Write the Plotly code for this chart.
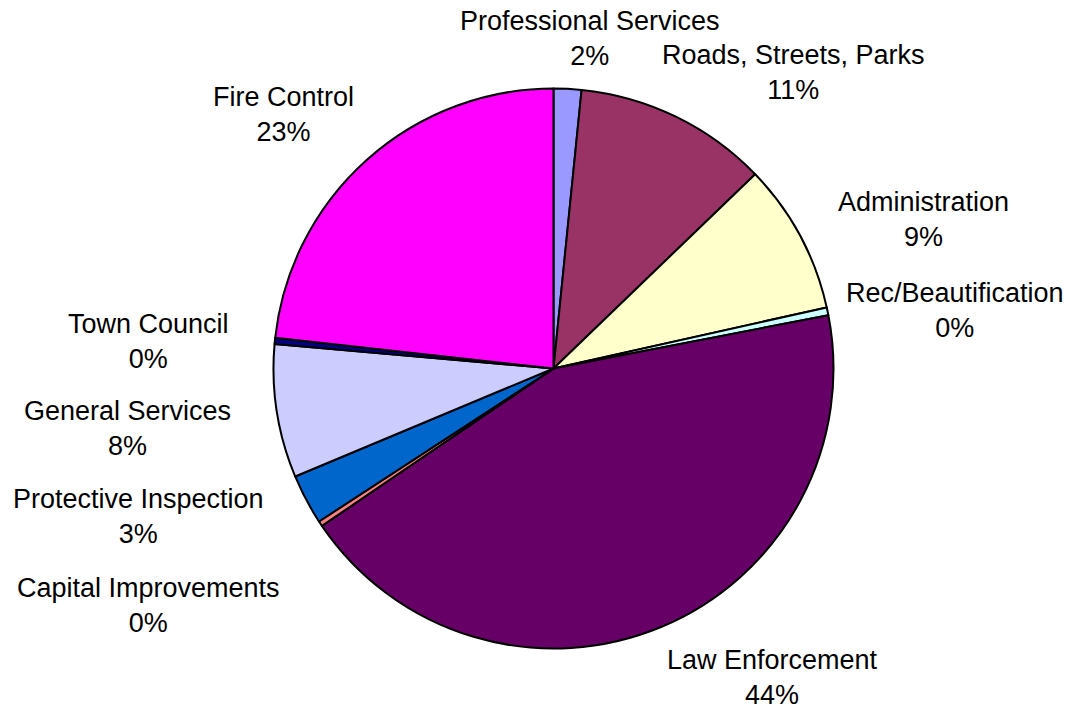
import plotly.graph_objects as go

categories = ["Professional Services", "Roads, Streets, Parks", "Administration",
              "Rec/Beautification", "Law Enforcement", "Capital Improvements",
              "Protective Inspection", "General Services", "Town Council", "Fire Control"]
values = [1.6, 11.2, 8.7, 0.45, 43.55, 0.3, 2.9, 7.7, 0.35, 23.25]
colors = ["#9999FF", "#993366", "#FFFFCC", "#CCFFFF", "#660066", "#FF8080",
          "#0066CC", "#CCCCFF", "#000080", "#FF00FF"]

# label block centres in pixels (layout only)
label_pos = [(590, 38), (793, 73), (923, 219), (955, 310), (772, 677),
             (148, 605), (138, 516), (127, 428), (148, 341), (283, 114)]

W, H = 1072, 715
cx, cy, r = 553.5, 368.5, 280

fig = go.Figure(go.Pie(
    labels=categories, values=values, sort=False, direction="clockwise",
    rotation=0, textinfo="none", hoverinfo="label+percent",
    marker=dict(colors=colors, line=dict(color="black", width=2)),
    domain=dict(x=[(cx - r) / W, (cx + r) / W], y=[1 - (cy + r) / H, 1 - (cy - r) / H]),
    showlegend=False,
))

total = sum(values)
for name, v, (px, py) in zip(categories, values, label_pos):
    pct = round(v / total * 100)
    fig.add_annotation(x=px / W, y=1 - py / H, xref="paper", yref="paper",
                       text=f"{name}<br>{pct}%", showarrow=False,
                       xanchor="center", yanchor="middle", align="center",
                       font=dict(family="Liberation Sans, Arial", size=27, color="black"))

fig.update_layout(width=W, height=H, margin=dict(l=0, r=0, t=0, b=0),
                  paper_bgcolor="white", plot_bgcolor="white")
fig.write_html("out.html")
